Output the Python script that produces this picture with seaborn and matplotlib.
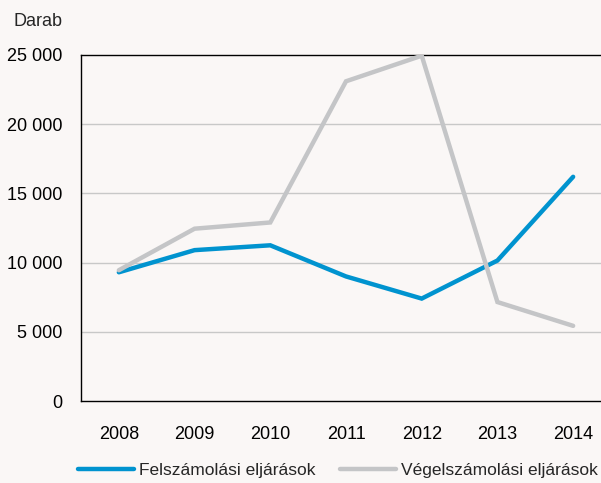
import matplotlib
matplotlib.use("Agg")
import matplotlib.pyplot as plt
import seaborn as sns
import pandas as pd
import numpy as np
from matplotlib.lines import Line2D

years = ["2008", "2009", "2010", "2011", "2012", "2013", "2014"]
felszamolasi = [9300, 10900, 11250, 9000, 7400, 10150, 16200]
vegelszamolasi = [9450, 12450, 12900, 23100, 24950, 7150, 5430]
series_names = ["Felszámolási eljárások", "Végelszámolási eljárások"]
yticks = [0, 5000, 10000, 15000, 20000, 25000]
ytick_labels = ["0", "5 000", "10 000", "15 000", "20 000", "25 000"]

sns.set_theme(style="white")
plt.rcParams["font.family"] = ["Liberation Sans", "DejaVu Sans"]

bg = "#FAF7F6"
colors = {series_names[0]: "#0093CF", series_names[1]: "#C4C5C7"}
fs = 13

df = pd.DataFrame({
    "x": list(range(len(years))) * 2,
    "value": felszamolasi + vegelszamolasi,
    "series": [series_names[0]] * len(years) + [series_names[1]] * len(years),
})

fig = plt.figure(figsize=(6.01, 4.83), dpi=100, facecolor=bg)
ax = fig.add_axes([81 / 601, 82 / 483, 530 / 601, 346 / 483])
ax.set_facecolor(bg)

for v in yticks[1:-1]:
    ax.axhline(v, color="#C8C8C8", lw=1.0, zorder=0)

sns.lineplot(data=df, x="x", y="value", hue="series", hue_order=series_names,
             palette=colors, linewidth=3.2, ax=ax, legend=False,
             solid_capstyle="round", solid_joinstyle="miter", zorder=3)

ax.set_xlim(-0.5, len(years) - 0.5)
ax.set_ylim(0, 25000)
ax.set_xticks(range(len(years)))
ax.set_xticklabels(years, fontsize=fs, color="black")
ax.set_xticks(np.arange(-0.5, len(years), 1.0), minor=True)
ax.tick_params(axis="x", which="major", length=0, pad=18)
ax.tick_params(axis="x", which="minor", length=4.5, width=1.0, color="black", direction="out")
ax.set_yticks(yticks)
ax.set_yticklabels(ytick_labels, fontsize=fs, color="black")
ax.tick_params(axis="y", length=0, pad=13.5)
ax.set_xlabel("")
ax.set_ylabel("")
for s in ["left", "bottom", "top"]:
    ax.spines[s].set_visible(True)
    ax.spines[s].set_color("black")
    ax.spines[s].set_linewidth(1.0)
ax.spines["right"].set_visible(False)

fig.text(13 / 601, 1 - 22 / 483, "Darab", fontsize=fs, ha="left", va="center")

handles = [Line2D([], [], color=colors[n], lw=3.2, solid_capstyle="round") for n in series_names]
fig.legend(handles, series_names, loc="center", bbox_to_anchor=(338 / 601, 1 - 470 / 483),
           ncol=2, frameon=False, fontsize=12.5, handlelength=3.2, handletextpad=0.3,
           columnspacing=1.4)

fig.savefig("out.png", dpi=100, facecolor=bg)
